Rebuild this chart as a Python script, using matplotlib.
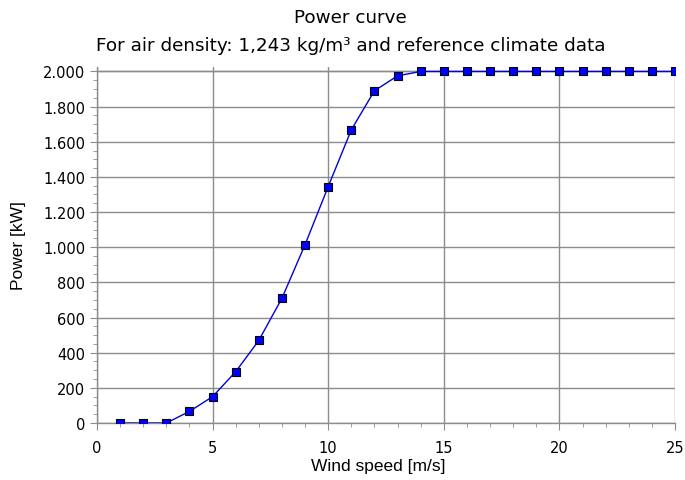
import matplotlib.pyplot as plt
from matplotlib.ticker import MultipleLocator, FuncFormatter

# power curve
wind_speed = [1, 2, 3, 4, 5, 6, 7, 8, 9, 10, 11, 12, 13,
              14, 15, 16, 17, 18, 19, 20, 21, 22, 23, 24, 25]
power_kw = [0, 0, 0, 66, 150, 292, 470, 710, 1015, 1345, 1668, 1890, 1975,
            2000, 2000, 2000, 2000, 2000, 2000, 2000, 2000, 2000, 2000, 2000, 2000]

title = "Power curve\nFor air density: 1,243 kg/m\u00b3 and reference climate data"
x_label = "Wind speed [m/s]"
y_label = "Power [kW]"

fig = plt.figure(figsize=(6.85, 4.81), dpi=100)
ax = fig.add_axes([0.1416, 0.1185, 0.8438, 0.7400])

ax.plot(wind_speed, power_kw, color="#0000dd", linewidth=1.0,
        marker="s", markersize=5.8, markerfacecolor="#0000ff",
        markeredgecolor="#000000", markeredgewidth=0.8, zorder=3)

ax.set_xlim(0, 25)
ax.set_ylim(0, 2025)
ax.xaxis.set_major_locator(MultipleLocator(5))
ax.xaxis.set_minor_locator(MultipleLocator(1))
ax.set_yticks(range(0, 2001, 200))
ax.yaxis.set_minor_locator(MultipleLocator(50))
ax.yaxis.set_major_formatter(FuncFormatter(lambda v, p: f"{int(v):,}".replace(",", ".")))

ax.grid(True, which="major", color="#8c8c8c", linewidth=1.0)
ax.set_axisbelow(True)
ax.axhline(2000, color="#8c8c8c", linewidth=1.0, zorder=1)

for s in ["top", "right"]:
    ax.spines[s].set_visible(False)
for s in ["left", "bottom"]:
    ax.spines[s].set_color("#8c8c8c")
    ax.spines[s].set_linewidth(1.0)

ax.tick_params(which="major", length=5, color="#8c8c8c", labelsize=10.5,
               labelcolor="black")
ax.tick_params(axis="x", which="major", pad=7)
ax.tick_params(which="minor", length=3, color="#8c8c8c")
for lbl in ax.get_xticklabels() + ax.get_yticklabels():
    lbl.set_fontfamily("DejaVu Sans")

ax.set_xlabel(x_label, fontsize=12.5, family="Liberation Sans")
ax.xaxis.set_label_coords(0.486, -0.098)
ax.set_ylabel(y_label, fontsize=12.5, family="Liberation Sans", labelpad=12)
fig.text(0.512, 0.982, title, ha="center", va="top", fontsize=13.2,
         family="DejaVu Sans", linespacing=1.75)

fig.savefig("out.png", dpi=100)
